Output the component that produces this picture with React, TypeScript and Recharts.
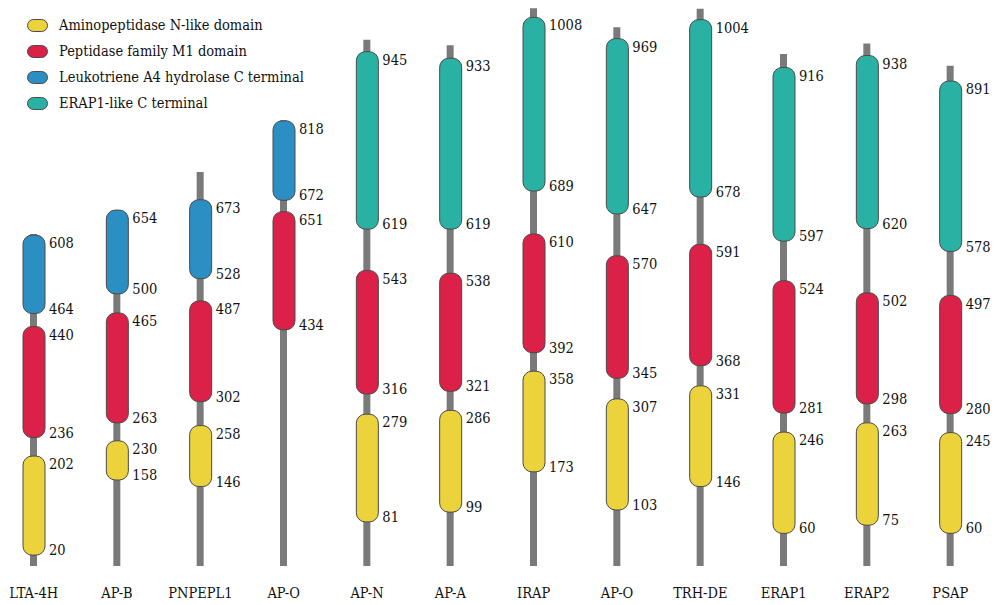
import React from 'react';
import { BarChart, Bar, XAxis, YAxis, Legend } from 'recharts';

const proteins = ['LTA-4H', 'AP-B', 'PNPEPL1', 'AP-O', 'AP-N', 'AP-A', 'IRAP', 'AP-O', 'TRH-DE', 'ERAP1', 'ERAP2', 'PSAP'];
const proteinLengths = [610, 650, 724, 819, 967, 957, 1025, 990, 1024, 941, 960, 919];

const nLikeStart = [20, 158, 146, null, 81, 99, 173, 103, 146, 60, 75, 60];
const nLikeEnd = [202, 230, 258, null, 279, 286, 358, 307, 331, 246, 263, 245];

const m1Start = [236, 263, 302, 434, 316, 321, 392, 345, 368, 281, 298, 280];
const m1End = [440, 465, 487, 651, 543, 538, 610, 570, 591, 524, 502, 497];

const lta4hStart = [464, 500, 528, 672, null, null, null, null, null, null, null, null];
const lta4hEnd = [608, 654, 673, 818, null, null, null, null, null, null, null, null];

const erap1Start = [null, null, null, null, 619, 619, 689, 647, 678, 597, 620, 578];
const erap1End = [null, null, null, null, 945, 933, 1008, 969, 1004, 916, 938, 891];

const legendLabels = [
  'Aminopeptidase N-like domain',
  'Peptidase family M1 domain',
  'Leukotriene A4 hydrolase C terminal',
  'ERAP1-like C terminal',
];

const COLORS = {
  nLike: '#EDD33B',
  m1: '#DB2147',
  lta4h: '#2B8FC4',
  erap1: '#29B2A3',
  line: '#7A7A7A',
  stroke: '#4a4a4a',
  text: '#111111',
};
const legendColors = [COLORS.nLike, COLORS.m1, COLORS.lta4h, COLORS.erap1];

const SERIF = "'DejaVu Serif Condensed', 'DejaVu Serif', serif";
const FS = 14.5;

const data = proteins.map((name, i) => ({
  name,
  len: proteinLengths[i],
  nS: nLikeStart[i],
  nE: nLikeEnd[i],
  mS: m1Start[i],
  mE: m1End[i],
  lS: lta4hStart[i],
  lE: lta4hEnd[i],
  eS: erap1Start[i],
  eE: erap1End[i],
}));

const rangeKey = (s: string, e: string) => (d: any) =>
  d[s] == null || d[e] == null ? null : [d[s], d[e]];

const makeDomainShape = (color: string, sKey: string, eKey: string) => (props: any) => {
  const { payload } = props;
  let { x, y, width, height } = props;
  if (!payload || payload[sKey] == null || payload[eKey] == null) return <g />;
  if (height < 0) {
    y = y + height;
    height = -height;
  }
  const r = Math.min(9, width / 2, height / 2);
  return (
    <g>
      <rect x={x} y={y} width={width} height={height} rx={r} ry={r} fill={color} stroke={COLORS.stroke} strokeWidth={1} />
      <text x={x + width + 4} y={y + 8} dy="0.35em" fontFamily={SERIF} fontStretch="condensed" fontSize={FS} fill={COLORS.text}>
        {String(payload[eKey])}
      </text>
      <text x={x + width + 4} y={y + height - 5} dy="0.35em" fontFamily={SERIF} fontStretch="condensed" fontSize={FS} fill={COLORS.text}>
        {String(payload[sKey])}
      </text>
    </g>
  );
};

const CategoryTick = (props: any) => {
  const { x, payload } = props;
  return (
    <text x={x} y={566} dy={32} textAnchor="middle" fontFamily={SERIF} fontStretch="condensed" fontSize={FS} fill={COLORS.text}>
      {payload.value}
    </text>
  );
};

const renderLegend = () => (
  <div style={{ fontFamily: SERIF, fontStretch: 'condensed', fontSize: FS, color: COLORS.text, lineHeight: '26px' }}>
    {legendLabels.map((label, i) => (
      <div key={label} style={{ display: 'flex', alignItems: 'center', height: 26, whiteSpace: 'nowrap' }}>
        <svg width={21} height={13} style={{ marginRight: 11, overflow: 'visible', display: 'block' }}>
          <rect x={0.5} y={0.5} width={20} height={12} rx={6} ry={6} fill={legendColors[i]} stroke={COLORS.stroke} strokeWidth={1} />
        </svg>
        <span>{label}</span>
      </div>
    ))}
  </div>
);

export default function App() {
  return (
    <div style={{ width: 1000, height: 605, marginLeft: -8, background: '#ffffff' }}>
      <style>{'html,body{margin:0;padding:0;overflow:hidden;background:#fff;}'}</style>
      <BarChart width={1000} height={605} data={data} margin={{ top: 0, right: 0, bottom: 0, left: 0 }}>
        <YAxis hide domain={[0, 1040]} allowDataOverflow type="number" />
        <XAxis
          xAxisId="line"
          dataKey="name"
          height={39}
          axisLine={false}
          tickLine={false}
          interval={0}
          tick={<CategoryTick />}
        />
        <XAxis xAxisId="n" dataKey="name" hide />
        <XAxis xAxisId="m" dataKey="name" hide />
        <XAxis xAxisId="l" dataKey="name" hide />
        <XAxis xAxisId="e" dataKey="name" hide />
        <Legend
          layout="vertical"
          align="center"
          verticalAlign="middle"
          wrapperStyle={{ position: 'absolute', top: 12, left: 35, width: 'auto', height: 'auto' }}
          content={renderLegend}
        />
        <Bar xAxisId="line" dataKey={(d: any) => [0, d.len]} barSize={7} fill={COLORS.line} isAnimationActive={false} />
        <Bar xAxisId="n" dataKey={rangeKey('nS', 'nE')} barSize={22} isAnimationActive={false} shape={makeDomainShape(COLORS.nLike, 'nS', 'nE')} />
        <Bar xAxisId="m" dataKey={rangeKey('mS', 'mE')} barSize={22} isAnimationActive={false} shape={makeDomainShape(COLORS.m1, 'mS', 'mE')} />
        <Bar xAxisId="l" dataKey={rangeKey('lS', 'lE')} barSize={22} isAnimationActive={false} shape={makeDomainShape(COLORS.lta4h, 'lS', 'lE')} />
        <Bar xAxisId="e" dataKey={rangeKey('eS', 'eE')} barSize={22} isAnimationActive={false} shape={makeDomainShape(COLORS.erap1, 'eS', 'eE')} />
      </BarChart>
    </div>
  );
}
